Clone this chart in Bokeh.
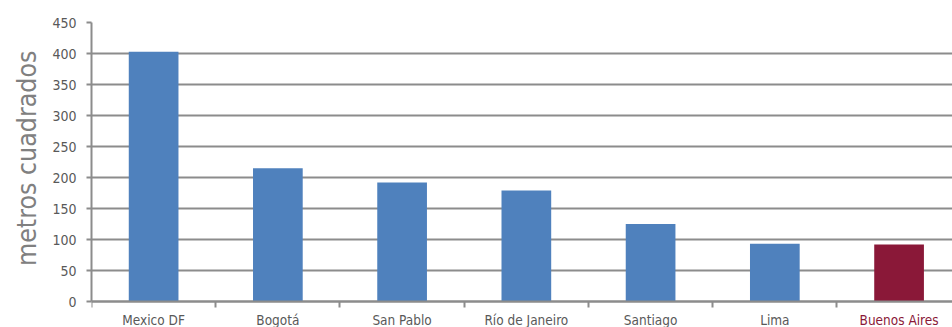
from bokeh.plotting import figure
from bokeh.models import Range1d, FixedTicker, ColumnDataSource, LabelSet, LinearAxis, Title
from bokeh.core.properties import value
from bokeh.embed import file_html
from bokeh.resources import INLINE

categories = ["Mexico DF", "Bogotá", "San Pablo", "Río de Janeiro", "Santiago", "Lima", "Buenos Aires"]
values = [403, 215, 192, 179, 125, 93, 92]
bar_colors = ["#4F81BD"] * 6 + ["#8A1838"]
label_colors = ["#595959"] * 6 + ["#8A1838"]
y_ticks = [0, 50, 100, 150, 200, 250, 300, 350, 400, 450]
y_label = "metros cuadrados"

FONT = "DejaVu Sans Condensed"
GRID = "#8C8C8C"
TXT = "#595959"

# layout: plot frame runs to the bottom of the canvas; value axis 0..450 spans 279 px,
# category axis sits at y=0, 26 px above the canvas bottom
Y_MAX = 450
PX_PER_UNIT = 279 / Y_MAX
Y_MIN = -26 / PX_PER_UNIT
LABEL_Y = -23 / PX_PER_UNIT

xs = [i + 0.5 for i in range(len(categories))]
src = ColumnDataSource(dict(x=xs, top=values, color=bar_colors, name=categories,
                            lcolor=label_colors, ly=[LABEL_Y] * len(categories)))

p = figure(width=952, height=327, output_backend="svg", toolbar_location=None,
           x_range=Range1d(0, 6.93), y_range=Range1d(Y_MIN, Y_MAX),
           x_axis_location=None,
           min_border_left=91, min_border_right=0, min_border_top=22, min_border_bottom=0)
p.outline_line_color = None
p.background_fill_color = "white"

p.vbar(x="x", top="top", width=0.4, bottom=0, color="color", source=src, line_color=None)

# y axis
p.yaxis.ticker = FixedTicker(ticks=y_ticks)
p.yaxis.bounds = (0, Y_MAX)
p.yaxis.minor_tick_line_color = None
p.yaxis.major_tick_out = 5
p.yaxis.major_tick_in = 0
p.yaxis.major_tick_line_color = GRID
p.yaxis.major_tick_line_width = 2
p.yaxis.axis_line_color = GRID
p.yaxis.axis_line_width = 2
p.yaxis.major_label_text_font = FONT
p.yaxis.major_label_text_font_size = "14px"
p.yaxis.major_label_text_color = TXT
p.yaxis.major_label_standoff = 10

# axis title, placed along the value part of the axis
p.add_layout(Title(text=y_label, align="right", offset=28, standoff=16,
                   text_font=FONT, text_font_size="26.5px", text_font_style="normal",
                   text_color="#808080"), "left")

# category axis at y = 0: tick marks at category boundaries
xaxis = LinearAxis(fixed_location=0)
xaxis.ticker = FixedTicker(ticks=xs, minor_ticks=list(range(len(categories) + 1)))
xaxis.major_label_overrides = {x: "" for x in xs}
xaxis.major_label_text_font_size = "0px"
xaxis.major_label_standoff = 0
xaxis.major_tick_line_color = None
xaxis.major_tick_out = 0
xaxis.major_tick_in = 0
xaxis.minor_tick_out = 6
xaxis.minor_tick_in = 0
xaxis.minor_tick_line_color = GRID
xaxis.minor_tick_line_width = 2
xaxis.axis_line_color = GRID
xaxis.axis_line_width = 2
p.add_layout(xaxis, "below")

p.add_layout(LabelSet(x="x", y="ly", text="name", source=src, text_align="center",
                      text_baseline="alphabetic", text_font=value(FONT), text_font_size="13.5px",
                      text_color="lcolor"))

p.xgrid.grid_line_color = None
p.ygrid.ticker = FixedTicker(ticks=y_ticks)
p.ygrid.grid_line_color = GRID
p.ygrid.grid_line_width = 2

open("out.html", "w").write(file_html(p, INLINE))
